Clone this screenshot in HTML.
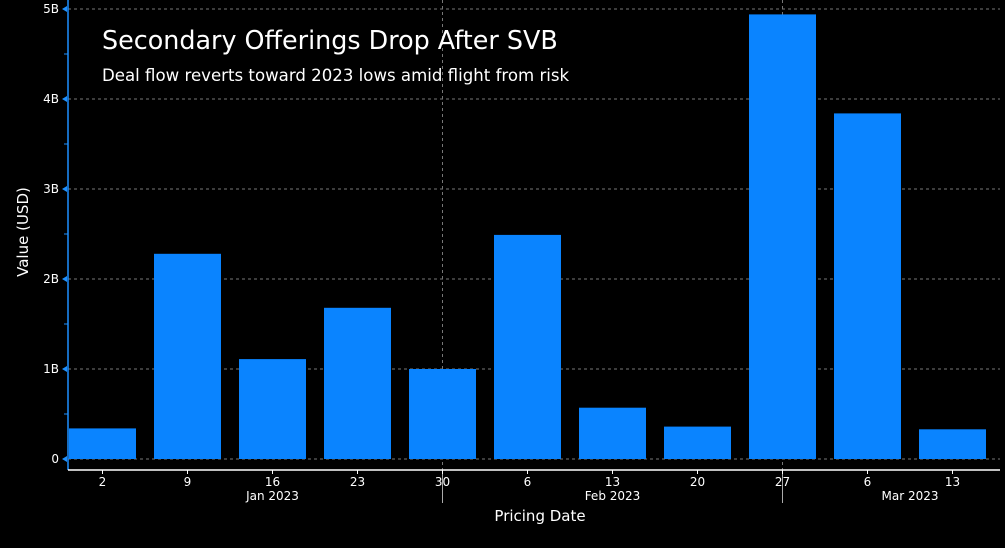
<!DOCTYPE html>
<html><head><meta charset="utf-8">
<style>
html,body{margin:0;padding:0;background:#000;}
svg{display:block;font-family:"DejaVu Sans","Liberation Sans",sans-serif;}
</style></head>
<body>
<svg id="chart" width="1005" height="548" viewBox="0 0 1005 548">
<rect x="0" y="0" width="1005" height="548" fill="#000"/>
<g id="grid"></g>
<g id="bars"></g>
<g id="axes"></g>
<text x="102" y="49" fill="#fff" font-size="25.4">Secondary Offerings Drop After SVB</text>
<text x="102" y="81" fill="#fff" font-size="16.6">Deal flow reverts toward 2023 lows amid flight from risk</text>
<text x="0" y="0" fill="#fff" font-size="15" text-anchor="middle" transform="translate(28,232) rotate(-90)">Value (USD)</text>
<text x="540" y="521" fill="#fff" font-size="15" text-anchor="middle">Pricing Date</text>
</svg>
<script>
const categories = ["2","9","16","23","30","6","13","20","27","6","13"];
const values = [0.34,2.28,1.11,1.68,1.0,2.49,0.57,0.36,4.94,3.84,0.33];
const yTicks = [0,1,2,3,4,5];
const yTickLabels = ["0","1B","2B","3B","4B","5B"];
const months = ["Jan 2023","Feb 2023","Mar 2023"];
const monthCenters = [2,6,9.5];
const monthBreaks = [4,8];

const NS="http://www.w3.org/2000/svg";
const x0=68, x1=1000, yZero=459, pxPerB=90, step=85, barW=67;
const xc=i=>102.5+i*step;
const y=v=>yZero-v*pxPerB;
function mk(tag,attrs,parent){const e=document.createElementNS(NS,tag);for(const k in attrs)e.setAttribute(k,attrs[k]);parent.appendChild(e);return e;}
const grid=document.getElementById('grid'),bars=document.getElementById('bars'),axes=document.getElementById('axes');

yTicks.forEach((t,i)=>{
  const l=mk('line',{x1:x0,x2:x1,y1:y(t),y2:y(t),stroke:'#777','stroke-dasharray':'3,3','stroke-width':1},grid);
  
  
  const p=mk('path',{d:`M62 ${y(t)} L67 ${y(t)-3} L67 ${y(t)+3}Z`,fill:'#1e90ff'},axes);
  
  
  const tx=mk('text',{x:59,y:y(t)+4,fill:'#fff','font-size':12,'text-anchor':'end'},axes);
  tx.textContent=yTickLabels[i];
  
  
  if(i<yTicks.length-1){
    const m=mk('line',{x1:64,x2:68,y1:y(t+0.5),y2:y(t+0.5),stroke:'#1e90ff'},axes);
    
    
  }
});
monthBreaks.forEach(b=>{
  const l=mk('line',{x1:xc(b),x2:xc(b),y1:0,y2:470,stroke:'#777','stroke-dasharray':'3,3'},grid);
  
  
  const s=mk('line',{x1:xc(b),x2:xc(b),y1:470,y2:503,stroke:'#aaa'},axes);
  
  
});
values.forEach((v,i)=>{
  const r=mk('rect',{x:xc(i)-barW/2,y:y(v),width:barW,height:yZero-y(v),fill:'#0a84ff'},bars);
  
  
  const t=mk('text',{x:xc(i),y:486,fill:'#fff','font-size':12,'text-anchor':'middle'},axes);
  t.textContent=categories[i];
  
  
  const k=mk('line',{x1:xc(i),x2:xc(i),y1:470,y2:474,stroke:'#fff'},axes);
  
  
});
months.forEach((m,i)=>{
  const t=mk('text',{x:xc(monthCenters[i]),y:500,fill:'#fff','font-size':12,'text-anchor':'middle'},axes);
  t.textContent=m;
  
  
});
const ya=mk('line',{x1:x0,x2:x0,y1:0,y2:470,stroke:'#1e90ff','stroke-width':1.5},axes);


const xa=mk('line',{x1:x0,x2:x1,y1:470,y2:470,stroke:'#fff','stroke-width':1.5},axes);


</script>
</body></html>
